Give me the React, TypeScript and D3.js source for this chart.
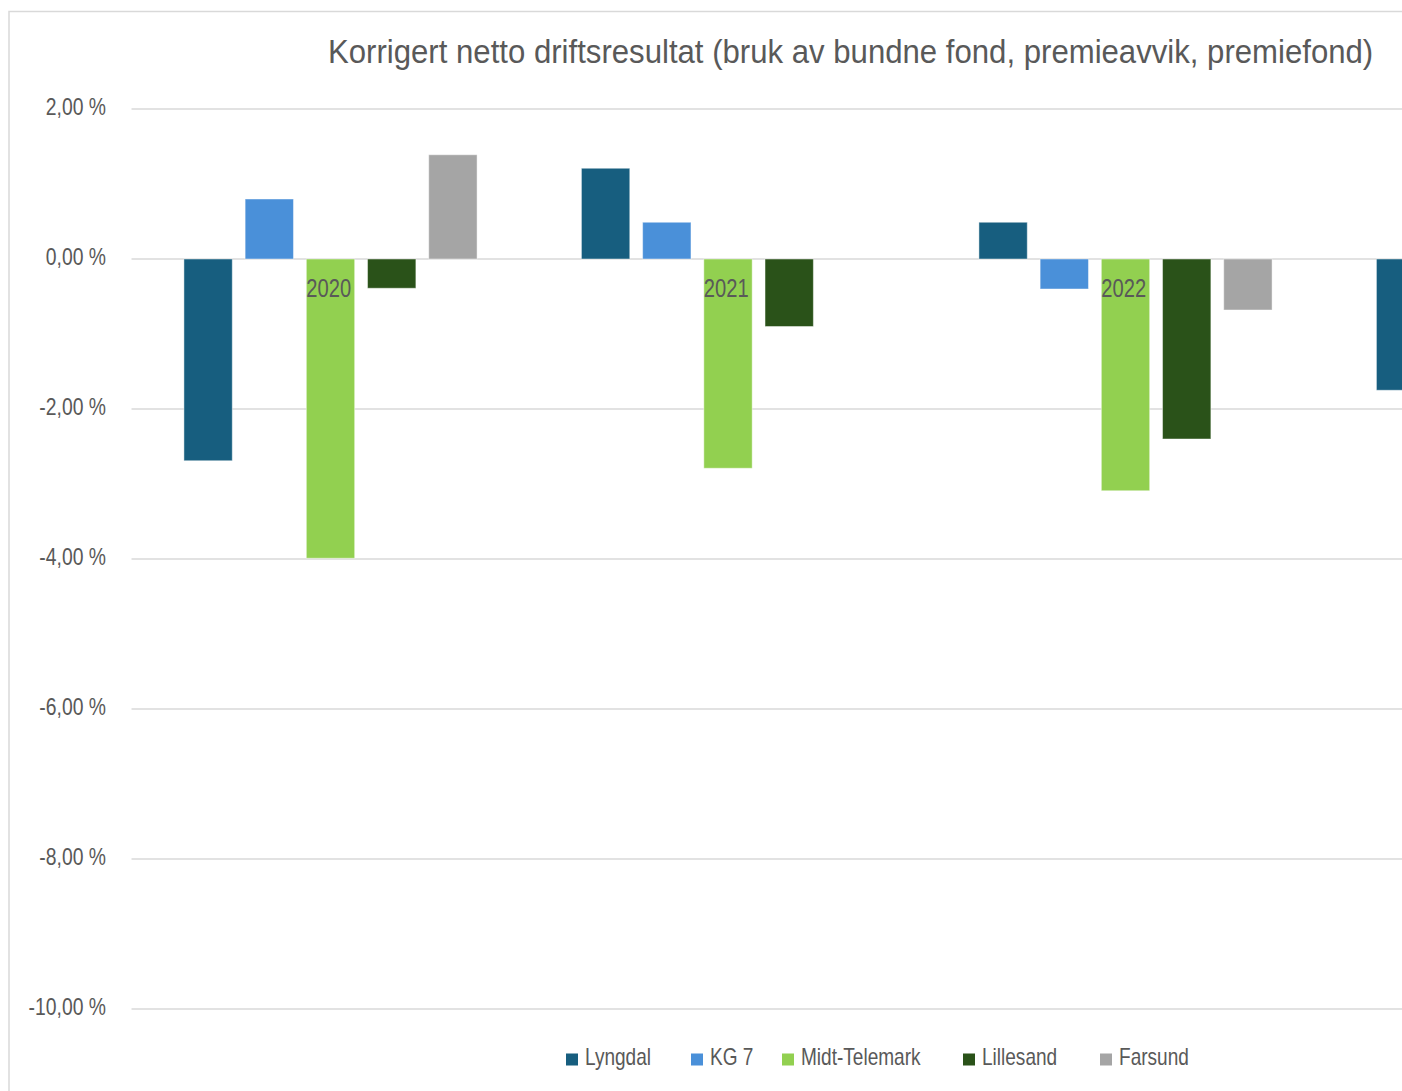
import React, { useLayoutEffect, useRef, useState } from "react";
import * as d3 from "d3";

const categories = ["2020", "2021", "2022", "2023"];
const seriesNames = ["Lyngdal", "KG 7", "Midt-Telemark", "Lillesand", "Farsund"];
const lyngdal = [-2.69, 1.21, 0.49, -1.75];
const kg7 = [0.8, 0.49, -0.4, null];
const midtTelemark = [-3.99, -2.79, -3.09, null];
const lillesand = [-0.39, -0.9, -2.4, null];
const farsund = [1.39, null, -0.68, null];
const yTicks = [2, 0, -2, -4, -6, -8, -10];
const title = "Korrigert netto driftsresultat (bruk av bundne fond, premieavvik, premiefond)";

const seriesValues = [lyngdal, kg7, midtTelemark, lillesand, farsund];
const colors = ["#175e7f", "#4a90d9", "#92d050", "#2a5219", "#a5a5a5"];
const legendX = [566, 691, 782, 963, 1100];

const W = 1402;
const H = 1091;
const SX = 0.79;
const FONT = "'Liberation Sans', Arial, sans-serif";
const TEXT = "#595959";
const TITLE_W = 1045;

export default function App() {
  const titleRef = useRef<SVGTextElement>(null);
  const [titleScale, setTitleScale] = useState(0.86);
  useLayoutEffect(() => {
    if (titleRef.current) {
      const len = titleRef.current.getComputedTextLength();
      if (len > 0) setTitleScale(TITLE_W / len);
    }
  }, []);

  const plotLeft = 131.5;
  const band = 397.5;
  const x = d3
    .scaleBand<string>()
    .domain(categories)
    .range([plotLeft, plotLeft + band * categories.length])
    .padding(0);
  const inner = d3
    .scaleBand<string>()
    .domain(seriesNames)
    .range([46, 352])
    .paddingInner(0.21)
    .paddingOuter(0.105);
  const y = d3.scaleLinear().domain([-10, 2]).range([1009, 109]);
  const fmt = (v: number) => d3.format(".2f")(v).replace(".", ",").replace("\u2212", "-") + " %";

  return (
    <svg
      width={W}
      height={H}
      style={{ position: "fixed", left: 0, top: 0, background: "#fff" }}
      fontFamily={FONT}
    >
      <rect x={0} y={0} width={W} height={H} fill="#fff" />
      <rect x={9} y={11.5} width={W + 20} height={H + 20} fill="none" stroke="#d9d9d9" strokeWidth={1.5} />
      <text
        ref={titleRef}
        transform={`translate(328,63) scale(${titleScale},1)`}
        fontSize={33}
        fill={TEXT}
      >
        {title}
      </text>
      {yTicks.map((t) => (
        <g key={t}>
          <line x1={plotLeft} x2={W} y1={y(t)} y2={y(t)} stroke="#d9d9d9" strokeWidth={1.5} />
          <text
            transform={`translate(106,${y(t) + 5.5}) scale(${SX},1)`}
            textAnchor="end"
            fontSize={24.5}
            fill={TEXT}
          >
            {fmt(t)}
          </text>
        </g>
      ))}
      {categories.map((c, ci) => (
        <g key={c} transform={`translate(${x(c)},0)`}>
          {seriesNames.map((s, si) => {
            const v = seriesValues[si][ci];
            if (v === null || v === undefined) return null;
            const y0 = y(0);
            const yv = y(v);
            return (
              <rect
                key={s}
                x={inner(s)}
                y={Math.min(y0, yv)}
                width={inner.bandwidth()}
                height={Math.abs(yv - y0)}
                fill={colors[si]}
                stroke="#ffffff"
                strokeOpacity={0.45}
                strokeWidth={1}
              />
            );
          })}
        </g>
      ))}
      {categories
        .filter((c) => (x(c) as number) + band / 2 + 30 < W)
        .map((c) => (
          <text
            key={"l" + c}
            transform={`translate(${(x(c) as number) + band / 2 - 1.5},${y(0) + 37.5}) scale(${SX},1)`}
            textAnchor="middle"
            fontSize={25.5}
            fill={TEXT}
          >
            {c}
          </text>
        ))}
      {seriesNames.map((s, i) => (
        <g key={"lg" + s}>
          <rect x={legendX[i]} y={1053.5} width={12} height={12} fill={colors[i]} />
          <text
            transform={`translate(${legendX[i] + 19},1065) scale(0.8,1)`}
            fontSize={23.8}
            fill={TEXT}
          >
            {s}
          </text>
        </g>
      ))}
    </svg>
  );
}
